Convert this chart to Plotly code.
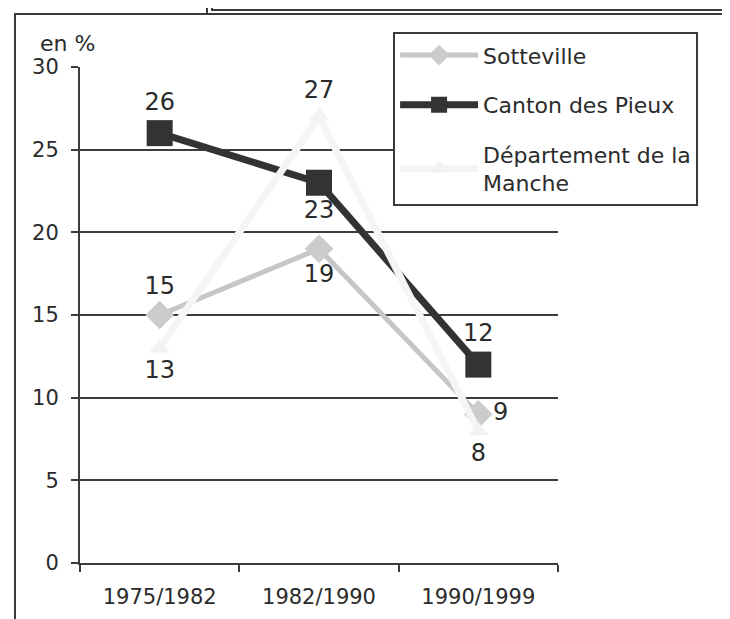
import plotly.graph_objects as go

categories = ["1975/1982", "1982/1990", "1990/1999"]
sotteville = [15, 19, 9]
canton = [26, 23, 12]
departement = [13, 27, 8]
series_names = ["Sotteville", "Canton des Pieux", "Département de la<br>Manche"]

FONT = "DejaVu Sans"
TXT = "#2b2b2b"
GRID = "#3c3c3c"

fig = go.Figure()

fig.add_trace(go.Scatter(
    x=categories, y=sotteville, name=series_names[0], legendgroup="a",
    mode="lines+markers+text",
    line=dict(color="#c6c6c6", width=5),
    marker=dict(symbol="diamond", size=22, color="#cccccc"),
    text=[str(v) for v in sotteville],
    textposition=["top center", "bottom center", "middle right"],
    textfont=dict(family=FONT, size=24, color=TXT),
))
fig.add_trace(go.Scatter(
    x=categories, y=canton, name=series_names[1], legendgroup="b",
    mode="lines+markers+text",
    line=dict(color="#333333", width=7),
    marker=dict(symbol="square", size=26, color="#333333"),
    text=[str(v) for v in canton],
    textposition=["top center", "bottom center", "top center"],
    textfont=dict(family=FONT, size=24, color=TXT),
))
fig.add_trace(go.Scatter(
    x=categories, y=departement, name=series_names[2], legendgroup="c",
    mode="lines+markers+text",
    line=dict(color="#f5f5f5", width=7),
    marker=dict(symbol="triangle-up", size=18, color="#f2f2f2"),
    text=[str(v) for v in departement],
    textposition=["bottom center", "top center", "bottom center"],
    textfont=dict(family=FONT, size=24, color=TXT),
))

# the page adds an 8px body margin: margins are reduced by 8px to compensate
fig.update_layout(
    width=730, height=619,
    margin=dict(l=72, r=180, t=59, b=64, pad=0),
    paper_bgcolor="white", plot_bgcolor="white",
    font=dict(family=FONT, color=TXT),
    showlegend=True,
    legend=dict(
        x=0.655, y=1.07, xanchor="left", yanchor="top",
        bgcolor="white", bordercolor="#3a3a3a", borderwidth=2,
        font=dict(family=FONT, size=22, color=TXT),
        itemwidth=78, tracegroupgap=18,
        traceorder="grouped",
    ),
    xaxis=dict(
        type="category", range=[-0.5, 2.5],
        showline=True, linecolor=GRID, linewidth=2,
        ticks="outside", tickson="boundaries", ticklen=7, tickwidth=2, tickcolor=GRID,
        showgrid=False, zeroline=False,
        tickfont=dict(family=FONT, size=21, color=TXT),
        ticklabelstandoff=14,
    ),
    yaxis=dict(
        range=[0, 30], dtick=5, tick0=0,
        showline=True, linecolor=GRID, linewidth=2,
        ticks="outside", ticklen=7, tickwidth=2, tickcolor=GRID,
        showgrid=True, gridcolor=GRID, gridwidth=2,
        zeroline=False,
        tickfont=dict(family=FONT, size=21, color=TXT),
        ticklabelstandoff=8,
    ),
)

fig.add_annotation(
    text="en %", xref="paper", yref="paper",
    x=-13/478, y=1.0, xanchor="center", yanchor="bottom", yshift=9,
    showarrow=False, font=dict(family=FONT, size=22, color=TXT),
)

# outer frame and title box
fig.add_shape(type="rect", xref="paper", yref="paper",
              x0=-65/478, x1=647/478, y0=-100/496, y1=(563-14)/496,
              line=dict(color="#3a3a3a", width=2), layer="below")
fig.add_shape(type="rect", xref="paper", yref="paper",
              x0=127/478, x1=648/478, y0=(563-14)/496, y1=(563+10)/496,
              line=dict(color="#3a3a3a", width=2), fillcolor="white", layer="below")
fig.add_shape(type="rect", xref="paper", yref="paper",
              x0=132/478, x1=643/478, y0=(563-10)/496, y1=(563+10)/496,
              line=dict(color="#3a3a3a", width=2), layer="below")

fig.write_html("out.html")
